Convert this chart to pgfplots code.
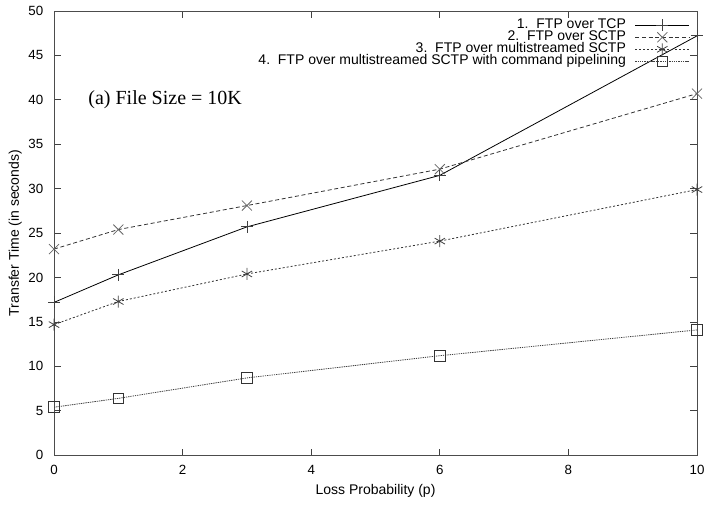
\documentclass[border=0pt]{standalone}
\usepackage{fontspec}
\setmainfont{Liberation Sans}
\newfontfamily\timesfont{Liberation Serif}
\usepackage{pgfplots}
\pgfplotsset{compat=1.18}

\begin{document}
\begin{tikzpicture}
\begin{axis}[
    scale only axis,
    width=482pt, height=333pt,
    xmin=0, xmax=10, ymin=0, ymax=50,
    xtick={0,2,...,10}, ytick={0,5,...,50},
    tick align=inside,
    tick style={black!75, line width=0.6pt},
    major tick length=5pt,
    axis line style={black!70, line width=0.7pt},
    font=\fontsize{10.5}{12}\selectfont,
    tick label style={font=\fontsize{10}{12}\selectfont},
    /pgf/number format/assume math mode=true,
    yticklabel style={xshift=-4.5pt},
    xticklabel style={yshift=-4pt},
    xlabel={Loss Probability (p)},
    ylabel={Transfer Time (in seconds)},
    xlabel style={at={([yshift=-26.5pt]rel axis cs:0.5,0)}, anchor=center},
    ylabel style={at={([xshift=-29pt]rel axis cs:0,0.5)}, anchor=center},
    legend style={at={([xshift=-5.25pt,yshift=-6pt]rel axis cs:1,1)}, anchor=north east,
        draw=none, fill=none, font=\fontsize{10.5}{12}\selectfont,
        inner sep=0pt, row sep=0pt, column sep=6.75pt,
        nodes={inner sep=0pt, text height=7pt, text depth=2pt}},
    legend cell align=right,
    legend plot pos=right,
    legend image code/.code={%
        \draw[mark repeat=2, mark phase=2, #1] plot coordinates {(0pt,0pt) (20.25pt,0pt) (40.5pt,0pt)};},
    every axis plot/.append style={line width=0.6pt},
]
\coordinate (ll) at (rel axis cs:0,0);
\coordinate (ur) at (rel axis cs:1,1);
\addplot[black, mark=+, mark size=4.5pt, mark options={solid, black!75}] coordinates {
    (0,17.2) (1,20.3) (3,25.7) (6,31.5) (10,47.2)
};
\addlegendentry{1.\ \ FTP over TCP}
\addplot[black!80, dash pattern=on 3pt off 2pt, mark=x, mark size=5.3pt, mark options={solid, black!60}] coordinates {
    (0,23.2) (1,25.4) (3,28.1) (6,32.2) (10,40.7)
};
\addlegendentry{2.\ \ FTP over SCTP}
\addplot[black!80, dash pattern=on 1.5pt off 1.5pt, mark=asterisk, mark size=4.5pt, mark options={solid, black!75}] coordinates {
    (0,14.7) (1,17.3) (3,20.4) (6,24.1) (10,29.9)
};
\addlegendentry{3.\ \ FTP over multistreamed SCTP}
\addplot[black!75, dash pattern=on 1pt off 0.7pt, mark=square, mark size=4pt, mark options={solid, black!80}] coordinates {
    (0,5.4) (1,6.4) (3,8.7) (6,11.2) (10,14.1)
};
\addlegendentry{4.\ \ FTP over multistreamed SCTP with command pipelining}
\node[anchor=west, inner sep=0pt, font=\timesfont\fontsize{15}{17}\selectfont] at (axis cs:0.53,40) {(a) File Size = 10K};
\end{axis}
\pgfresetboundingbox
\path ([shift={(-40.5pt,-37.5pt)}]ll) rectangle ([shift={(7.5pt,8.25pt)}]ur);
\end{tikzpicture}
\end{document}
